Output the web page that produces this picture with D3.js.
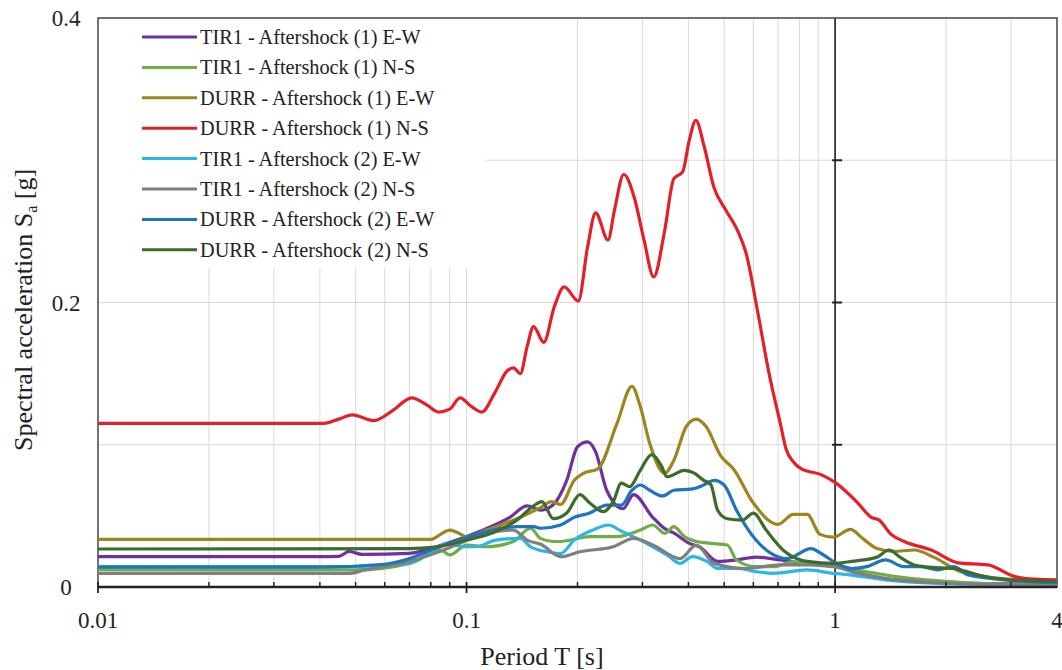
<!doctype html>
<html>
<head>
<meta charset="utf-8">
<title>Response spectra</title>
<script src="https://cdnjs.cloudflare.com/ajax/libs/d3/7.8.5/d3.min.js"></script>
<style>
  html, body { margin: 0; padding: 0; background: #fff; }
  svg { display: block; }
</style>
</head>
<body>
<script>
// ---- data: [period T (s), Sa (g)] ----
const tir1As1EW = [[0.01,0.0213],[0.04,0.0213],[0.045,0.0215],[0.048,0.025],[0.052,0.023],[0.07,0.0237],[0.082,0.028],[0.094,0.033],[0.113,0.041],[0.131,0.049],[0.146,0.057],[0.159,0.054],[0.172,0.058],[0.187,0.075],[0.2,0.0986],[0.213,0.102],[0.224,0.095],[0.24,0.068],[0.266,0.055],[0.284,0.065],[0.32,0.049],[0.345,0.041],[0.365,0.038],[0.4,0.031],[0.43,0.028],[0.48,0.018],[0.54,0.019],[0.61,0.021],[0.71,0.019],[0.81,0.0166],[1.0,0.015],[1.26,0.0072],[1.7,0.0037],[2.3,0.0026],[4,0.002]];
const tir1As1NS = [[0.01,0.012],[0.05,0.012],[0.07,0.0166],[0.085,0.026],[0.09,0.0225],[0.1,0.0295],[0.113,0.0283],[0.134,0.032],[0.149,0.0413],[0.159,0.034],[0.172,0.032],[0.18,0.032],[0.216,0.0354],[0.256,0.0354],[0.296,0.04],[0.32,0.0436],[0.345,0.0377],[0.365,0.0424],[0.39,0.0354],[0.42,0.032],[0.46,0.0307],[0.51,0.0295],[0.54,0.019],[0.61,0.0143],[0.68,0.0143],[0.77,0.0178],[0.88,0.0155],[0.99,0.0143],[1.2,0.011],[1.5,0.007],[2,0.004],[4,0.001]];
const durr1EW = [[0.01,0.0335],[0.08,0.0335],[0.085,0.037],[0.09,0.040],[0.095,0.038],[0.1,0.0354],[0.113,0.040],[0.137,0.048],[0.159,0.056],[0.17,0.06],[0.18,0.058],[0.196,0.075],[0.208,0.080],[0.227,0.083],[0.256,0.115],[0.281,0.141],[0.296,0.127],[0.314,0.101],[0.345,0.080],[0.365,0.089],[0.395,0.113],[0.42,0.118],[0.446,0.113],[0.49,0.092],[0.53,0.083],[0.6,0.059],[0.7,0.044],[0.77,0.051],[0.84,0.051],[0.91,0.037],[0.99,0.035],[1.1,0.0405],[1.19,0.034],[1.3,0.027],[1.44,0.025],[1.64,0.026],[1.85,0.021],[2.18,0.011],[2.6,0.007],[3.2,0.005],[4,0.004]];
const durr1NS = [[0.01,0.115],[0.041,0.115],[0.045,0.118],[0.049,0.121],[0.056,0.117],[0.063,0.124],[0.071,0.133],[0.078,0.128],[0.084,0.123],[0.09,0.125],[0.096,0.133],[0.103,0.127],[0.11,0.123],[0.119,0.136],[0.129,0.152],[0.134,0.154],[0.14,0.150],[0.146,0.169],[0.152,0.183],[0.162,0.172],[0.173,0.197],[0.184,0.211],[0.201,0.201],[0.213,0.239],[0.224,0.263],[0.242,0.244],[0.252,0.265],[0.267,0.29],[0.285,0.274],[0.303,0.244],[0.322,0.218],[0.344,0.249],[0.365,0.287],[0.386,0.292],[0.402,0.314],[0.419,0.328],[0.441,0.31],[0.469,0.281],[0.505,0.265],[0.545,0.25],[0.573,0.235],[0.617,0.193],[0.662,0.15],[0.71,0.115],[0.736,0.097],[0.77,0.088],[0.81,0.083],[0.916,0.079],[1.006,0.073],[1.153,0.059],[1.253,0.049],[1.317,0.047],[1.419,0.037],[1.54,0.032],[1.824,0.026],[2.155,0.017],[2.6,0.0155],[3.06,0.0075],[3.5,0.0055],[4,0.005]];
const tir1As2EW = [[0.01,0.0143],[0.05,0.0143],[0.07,0.0166],[0.082,0.026],[0.088,0.0307],[0.098,0.0283],[0.106,0.0283],[0.12,0.033],[0.14,0.0342],[0.149,0.0283],[0.165,0.0248],[0.18,0.0235],[0.196,0.033],[0.22,0.04],[0.243,0.0436],[0.26,0.04],[0.29,0.0342],[0.32,0.0283],[0.35,0.0225],[0.38,0.0166],[0.41,0.0213],[0.45,0.0178],[0.48,0.013],[0.55,0.013],[0.61,0.0108],[0.68,0.0096],[0.84,0.012],[0.99,0.0096],[1.11,0.0084],[1.37,0.005],[1.9,0.0026],[4,0.001]];
const tir1As2NS = [[0.01,0.0095],[0.048,0.0096],[0.053,0.012],[0.07,0.018],[0.082,0.0237],[0.096,0.0307],[0.113,0.0377],[0.134,0.04],[0.146,0.033],[0.159,0.03],[0.18,0.0213],[0.203,0.0248],[0.25,0.0283],[0.284,0.0342],[0.32,0.0295],[0.38,0.02],[0.42,0.0295],[0.47,0.0166],[0.57,0.013],[0.71,0.0155],[0.88,0.0155],[1.0,0.0143],[1.11,0.0108],[1.37,0.0061],[1.9,0.003],[4,0.001]];
const durr2EW = [[0.01,0.014],[0.04,0.014],[0.06,0.016],[0.07,0.02],[0.082,0.027],[0.09,0.031],[0.1,0.035],[0.113,0.039],[0.137,0.0424],[0.152,0.0424],[0.159,0.0413],[0.18,0.0436],[0.196,0.049],[0.216,0.052],[0.24,0.0576],[0.263,0.0576],[0.281,0.068],[0.296,0.0717],[0.314,0.068],[0.34,0.064],[0.365,0.068],[0.41,0.069],[0.44,0.0717],[0.47,0.075],[0.5,0.0717],[0.54,0.054],[0.61,0.033],[0.67,0.0237],[0.74,0.02],[0.86,0.027],[0.93,0.0225],[1.01,0.0166],[1.11,0.013],[1.22,0.0143],[1.37,0.019],[1.54,0.0143],[1.71,0.0143],[1.9,0.012],[2.1,0.0143],[2.3,0.0084],[2.9,0.005],[4,0.003]];
const durr2NS = [[0.01,0.0267],[0.07,0.027],[0.082,0.028],[0.1,0.033],[0.12,0.039],[0.137,0.047],[0.152,0.057],[0.16,0.06],[0.172,0.048],[0.187,0.052],[0.203,0.065],[0.216,0.059],[0.235,0.053],[0.25,0.06],[0.263,0.073],[0.277,0.0705],[0.296,0.082],[0.318,0.093],[0.338,0.085],[0.35,0.0775],[0.39,0.082],[0.415,0.08],[0.44,0.075],[0.46,0.072],[0.48,0.054],[0.51,0.048],[0.56,0.047],[0.6,0.052],[0.65,0.04],[0.73,0.025],[0.84,0.018],[0.99,0.0166],[1.11,0.018],[1.3,0.021],[1.4,0.026],[1.5,0.021],[1.64,0.0155],[1.8,0.014],[2.1,0.013],[2.45,0.0084],[2.95,0.005],[4,0.004]];

const seriesNames = ["TIR1 - Aftershock (1) E-W", "TIR1 - Aftershock (1) N-S", "DURR - Aftershock (1) E-W", "DURR - Aftershock (1) N-S",
                     "TIR1 - Aftershock (2) E-W", "TIR1 - Aftershock (2) N-S", "DURR - Aftershock (2) E-W", "DURR - Aftershock (2) N-S"];
const seriesData = [tir1As1EW, tir1As1NS, durr1EW, durr1NS, tir1As2EW, tir1As2NS, durr2EW, durr2NS];
const seriesColors = ["#7030a0", "#70ad47", "#9c8620", "#e3202a", "#2cb5e6", "#7f7f7f", "#1f74be", "#3d6b2c"];

const xTickValues = [0.01, 0.1, 1, 4];
const yTickValues = [0, 0.2, 0.4];
const yGridValues = [0.1, 0.2, 0.3];
const minorPeriods = [0.02,0.03,0.04,0.05,0.06,0.07,0.08,0.09,0.2,0.3,0.4,0.5,0.6,0.7,0.8,0.9,2,3];

var width = 1062, height = 670;
var margin = {left: 98, right: 5, top: 18, bottom: 83};
var x0 = margin.left, x1 = width - margin.right, y0 = height - margin.bottom, y1 = margin.top;
var serif = "'Liberation Serif', 'Times New Roman', serif";

var svg = d3.select("body").append("svg")
    .attr("width", width)
    .attr("height", height);

var x = d3.scaleLog().domain([0.01, 4]).range([x0, x1]);
var y = d3.scaleLinear().domain([0, 0.4]).range([y0, y1]);

// grid
svg.append("g").selectAll("line").data(minorPeriods.concat([0.1])).enter().append("line")
    .attr("x1", d => x(d)).attr("x2", d => x(d))
    .attr("y1", y1).attr("y2", y0)
    .attr("stroke", "#d9d9d9").attr("stroke-width", 1);
svg.append("g").selectAll("line").data(yGridValues).enter().append("line")
    .attr("x1", x0).attr("x2", x1)
    .attr("y1", d => y(d)).attr("y2", d => y(d))
    .attr("stroke", "#d9d9d9").attr("stroke-width", 1);

// legend background hides the grid behind it
svg.append("rect")
    .attr("x", x0 + 1).attr("y", y1 + 1)
    .attr("width", 387).attr("height", 249)
    .attr("fill", "white");

// vertical line at T = 1 s with ticks
svg.append("line")
    .attr("x1", x(1)).attr("x2", x(1)).attr("y1", y1).attr("y2", y0)
    .attr("stroke", "#333").attr("stroke-width", 1.8);
svg.append("g").selectAll("line").data(yGridValues).enter().append("line")
    .attr("x1", x(1) - 3).attr("x2", x(1) + 7)
    .attr("y1", d => y(d)).attr("y2", d => y(d))
    .attr("stroke", "#222").attr("stroke-width", 2);

// frame
svg.append("rect")
    .attr("x", x0).attr("y", y1)
    .attr("width", x1 - x0).attr("height", y0 - y1)
    .attr("fill", "none").attr("stroke", "#444").attr("stroke-width", 1.5);

// curves
var line = d3.line()
    .x(d => x(d[0]))
    .y(d => y(d[1]))
    .curve(d3.curveMonotoneX);

svg.append("g").selectAll("path").data(seriesData).enter().append("path")
    .attr("d", line)
    .attr("fill", "none")
    .attr("stroke", (d, i) => seriesColors[i])
    .attr("stroke-width", 3.2)
    .attr("stroke-linejoin", "round");

// bottom axis
svg.append("line")
    .attr("x1", x0).attr("x2", x1).attr("y1", y0).attr("y2", y0)
    .attr("stroke", "#222").attr("stroke-width", 2.5);
svg.append("g").selectAll("line").data(minorPeriods).enter().append("line")
    .attr("x1", d => x(d)).attr("x2", d => x(d))
    .attr("y1", y0 - 5).attr("y2", y0)
    .attr("stroke", "#222").attr("stroke-width", 1.5);
svg.append("g").selectAll("line").data([0.01, 0.1, 1]).enter().append("line")
    .attr("x1", d => x(d)).attr("x2", d => x(d))
    .attr("y1", y0 - 5).attr("y2", y0 + 6)
    .attr("stroke", "#222").attr("stroke-width", 1.8);

// tick labels
svg.append("g").selectAll("text").data(xTickValues).enter().append("text")
    .attr("x", d => x(d)).attr("y", 628)
    .attr("text-anchor", "middle")
    .style("font-family", serif)
    .style("font-size", "23px")
    .attr("fill", "#222")
    .text(d => d);
svg.append("g").selectAll("text").data(yTickValues).enter().append("text")
    .attr("x", 66).attr("y", d => y(d) + 8)
    .attr("text-anchor", "middle")
    .style("font-family", serif)
    .style("font-size", "23px")
    .attr("fill", "#222")
    .text(d => d);

// axis titles
svg.append("text")
    .attr("x", 542).attr("y", 665)
    .attr("text-anchor", "middle")
    .style("font-family", serif)
    .style("font-size", "26px")
    .attr("fill", "#222")
    .text("Period T [s]");

var yt = svg.append("text")
    .attr("transform", "translate(32,310) rotate(-90)")
    .attr("text-anchor", "middle")
    .style("font-family", serif)
    .style("font-size", "26px")
    .attr("fill", "#222");
yt.append("tspan").text("Spectral acceleration S");
yt.append("tspan").style("font-size", "16px").attr("dy", 5).text("a");
yt.append("tspan").attr("dy", -5).text(" [g]");

// legend
var leg = svg.append("g").selectAll("g").data(seriesNames).enter().append("g")
    .attr("transform", (d, i) => "translate(142," + (37 + i * 30.4) + ")");
leg.append("line")
    .attr("x1", 0).attr("x2", 55)
    .attr("stroke", (d, i) => seriesColors[i])
    .attr("stroke-width", 3);
leg.append("text")
    .attr("x", 58).attr("y", 7)
    .style("font-family", serif)
    .style("font-size", "20.3px")
    .attr("fill", "#222")
    .text(d => d);
</script>
</body>
</html>
